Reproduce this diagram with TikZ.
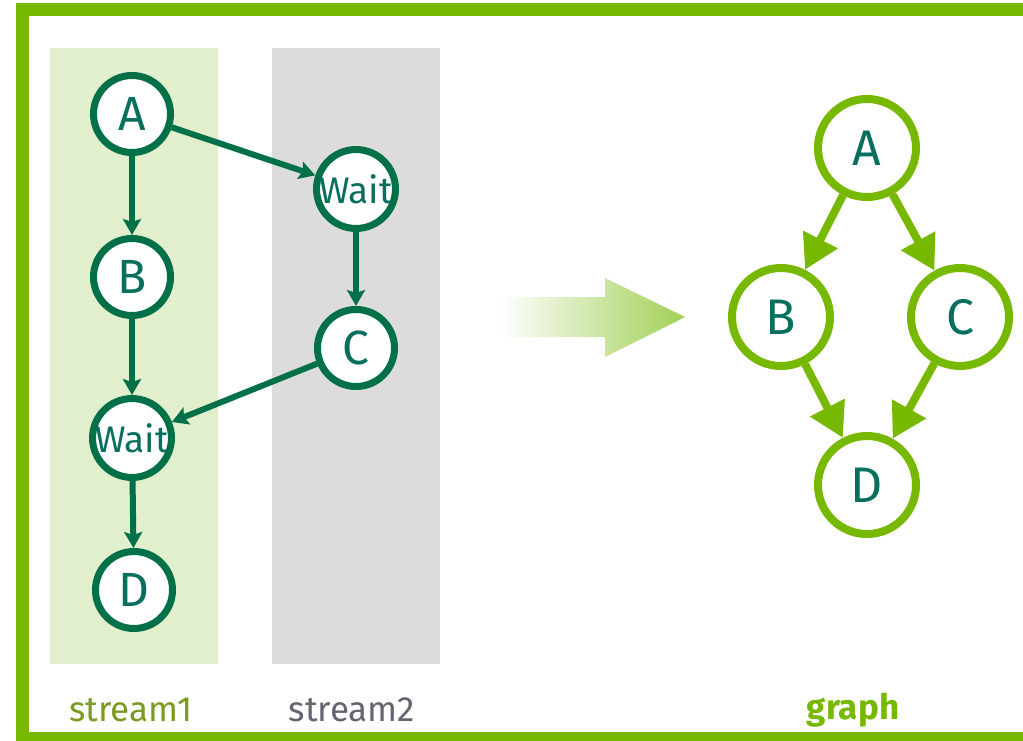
\documentclass[tikz,border=0pt]{standalone}
\usepackage{fontspec}
\setmainfont{Fira Sans}
\usetikzlibrary{arrows.meta}
\definecolor{nvgreen}{RGB}{118,185,0}
\definecolor{dkgreen}{RGB}{0,112,72}
\definecolor{teal2}{RGB}{8,110,94}
\definecolor{band1}{RGB}{226,239,204}
\definecolor{band2}{RGB}{220,220,220}
\definecolor{lbl1}{RGB}{122,154,32}
\definecolor{lbl2}{RGB}{100,100,112}
\definecolor{arrowgreen}{RGB}{160,208,85}
\tikzset{
  snode/.style={circle,draw=dkgreen,line width=7pt,fill=white,minimum size=77pt,inner sep=0pt,
    text=teal2,font=\fontsize{48}{48}\selectfont},
  wnode/.style={snode,font=\fontsize{37}{37}\selectfont},
  gnode/.style={circle,draw=nvgreen,line width=8pt,fill=white,minimum size=98pt,inner sep=0pt,
    text=teal2,font=\fontsize{50}{50}\selectfont},
  sarrow/.style={draw=dkgreen,line width=6pt,-{Stealth[length=16pt,width=18pt,inset=3pt]}},
  garrow/.style={draw=nvgreen,line width=8pt,-{Triangle[length=34pt,width=37pt]}},
  lbl/.style={font=\fontsize{35}{35}\selectfont}
}
\begin{document}
\begin{tikzpicture}[x=1pt,y=-1pt]
\useasboundingbox (0,0) rectangle (1023,741);
\clip (0,0) rectangle (1023,741);
\fill[white] (0,0) rectangle (1023,741);
% frame
\draw[nvgreen,line width=13pt] (22.5,10) rectangle (1060,738);
% bands
\fill[band1] (50,48) rectangle (218,664);
\fill[band2] (272,48) rectangle (440,664);
% stream nodes
\node[snode] (A1) at (132,114) {A};
\node[snode] (B1) at (132,277) {B};
\node[wnode] (W1) at (132,438) {Wait};
\node[snode] (D1) at (134,590) {D};
\node[wnode] (W2) at (356,189) {Wait};
\node[snode] (C2) at (356,348) {C};
\draw[sarrow] (A1) -- (B1);
\draw[sarrow] (B1) -- (W1);
\draw[sarrow] (W1) -- (D1);
\draw[sarrow] (A1) -- (W2);
\draw[sarrow] (W2) -- (C2);
\draw[sarrow] (C2) -- (W1);
% big arrow
\shade[left color=white,right color=arrowgreen]
  (500,297) -- (605,297) -- (605,278) -- (685,317) -- (605,357) -- (605,337) -- (500,337) -- cycle;
% graph
\node[gnode] (A) at (867,148) {A};
\node[gnode] (B) at (781,317) {B};
\node[gnode] (C) at (960,317) {C};
\node[gnode] (D) at (867,485) {D};
\draw[garrow] (A) -- (B);
\draw[garrow] (A) -- (C);
\draw[garrow] (B) -- (D);
\draw[garrow] (C) -- (D);
% labels
\node[lbl,text=lbl1] (L1) at (131,710) {stream1};
\node[lbl,text=lbl2] (L2) at (352,710) {stream2};
\node[lbl,text=nvgreen,font=\fontsize{35}{35}\selectfont\bfseries] (L3) at (853,710) {graph};
\end{tikzpicture}
\end{document}
